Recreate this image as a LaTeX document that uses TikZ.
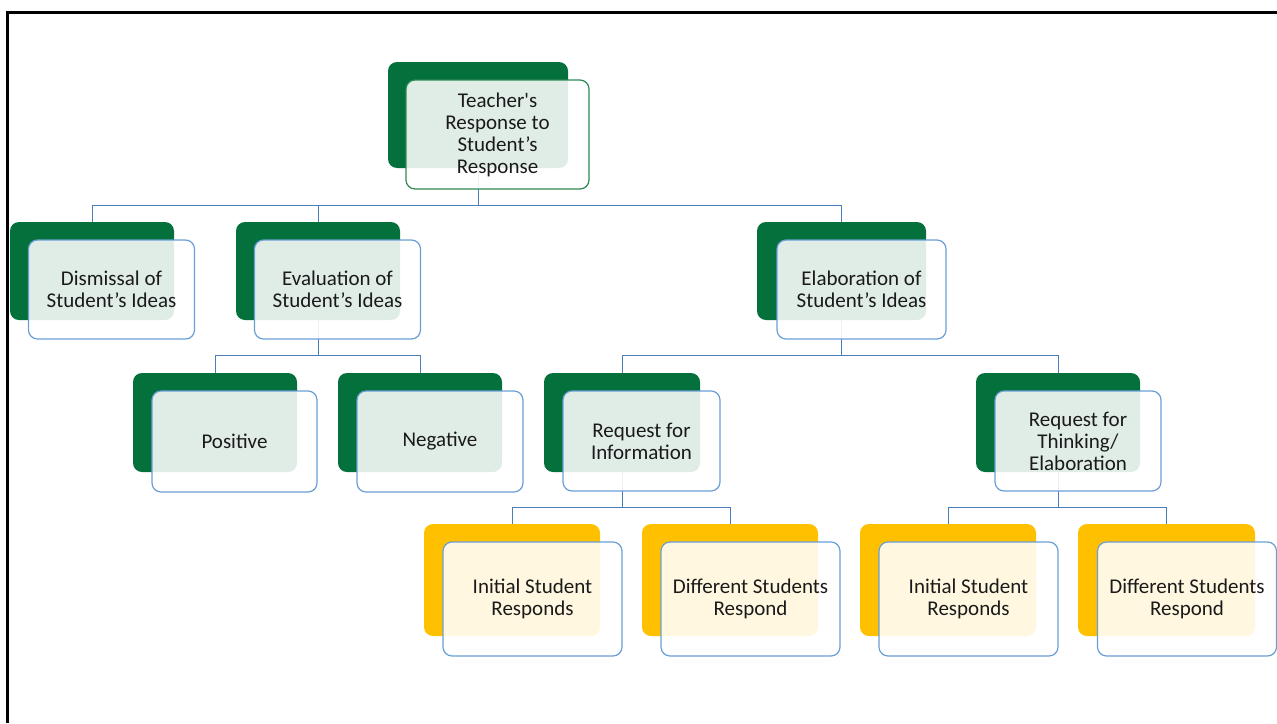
\documentclass[tikz,border=0pt]{standalone}
\usepackage{fontspec}
\setmainfont{Carlito}
\usetikzlibrary{backgrounds}
\definecolor{leafgreen}{HTML}{04703B}
\definecolor{leafgold}{HTML}{FFC000}
\definecolor{edgeblue}{HTML}{6A9FD6}
\definecolor{edgegreen}{HTML}{2E8A55}
\definecolor{linkblue}{HTML}{4A7EBB}
\definecolor{inktext}{HTML}{1A1A1A}
\begin{document}
\begin{tikzpicture}[x=1pt,y=-1pt,
  backbox/.style={rounded corners=9pt, inner sep=0pt, outer sep=0pt, fill=leafgreen},
  goldbox/.style={backbox, fill=leafgold},
  frontbox/.style={rounded corners=9pt, inner sep=0pt, outer sep=0pt,
    fill=white, fill opacity=0.88, text opacity=1, draw=edgeblue, line width=1.2pt,
    align=center, text=inktext, font=\fontsize{21}{22}\selectfont},
  rootfront/.style={frontbox, draw=edgegreen},
  conn/.style={draw=linkblue, line width=1pt}]
\useasboundingbox (0,0) rectangle (1277,723);

% page frame (top and left edges)
\draw[line width=3pt] (7.5,723) -- (7.5,12) -- (1277,12);

% root
\node[backbox, minimum width=180pt, minimum height=106pt] (rootB) at (478,115) {};
\node[rootfront, minimum width=183pt, minimum height=109pt] (root) at (497.5,134.5)
  {Teacher\textquotesingle s\\Response to\\Student’s\\Response};

% first level
\node[backbox, minimum width=164pt, minimum height=98pt] (dismB) at (92,271) {};
\node[frontbox, minimum width=166pt, minimum height=99pt] (dism) at (111.5,289.5)
  {Dismissal of\\Student’s Ideas};
\node[backbox, minimum width=164pt, minimum height=98pt] (evalB) at (318,271) {};
\node[frontbox, minimum width=166pt, minimum height=99pt] (eval) at (337.5,289.5)
  {Evaluation of\\Student’s Ideas};
\node[backbox, minimum width=169pt, minimum height=98pt] (elabB) at (841.5,271) {};
\node[frontbox, minimum width=169pt, minimum height=99pt] (elab) at (861.5,289.5)
  {Elaboration of\\Student’s Ideas};

% second level
\node[backbox, minimum width=164pt, minimum height=99pt] (posB) at (215,422.5) {};
\node[frontbox, minimum width=165pt, minimum height=101pt] (pos) at (234.5,441.5) {Positive};
\node[backbox, minimum width=164pt, minimum height=99pt] (negB) at (420,422.5) {};
\node[frontbox, minimum width=166pt, minimum height=101pt] (neg) at (440,441.5) {Negative};
\node[backbox, minimum width=156pt, minimum height=99pt] (infoB) at (622,422.5) {};
\node[frontbox, minimum width=157pt, minimum height=100pt] (info) at (641.5,441)
  {Request for\\Information};
\node[backbox, minimum width=164pt, minimum height=99pt] (thinkB) at (1058,422.5) {};
\node[frontbox, minimum width=166pt, minimum height=100pt] (think) at (1078,441)
  {Request for\\Thinking/\\Elaboration};

% third level
\node[goldbox, minimum width=176pt, minimum height=112pt] (initAB) at (512,580) {};
\node[frontbox, minimum width=179pt, minimum height=114pt] (initA) at (532.5,599)
  {Initial Student\\Responds};
\node[goldbox, minimum width=176pt, minimum height=112pt] (diffAB) at (730,580) {};
\node[frontbox, minimum width=179pt, minimum height=114pt] (diffA) at (750.5,599)
  {Different Students\\Respond};
\node[goldbox, minimum width=176pt, minimum height=112pt] (initBB) at (948,580) {};
\node[frontbox, minimum width=179pt, minimum height=114pt] (initB) at (968.5,599)
  {Initial Student\\Responds};
\node[goldbox, minimum width=177pt, minimum height=112pt] (diffBB) at (1166.5,580) {};
\node[frontbox, minimum width=179pt, minimum height=114pt] (diffB) at (1187,599)
  {Different Students\\Respond};

% tree connectors, behind the boxes
\begin{scope}[on background layer]
  \coordinate (busA) at (0,205);
  \coordinate (busB) at (0,355);
  \coordinate (busC) at (0,507);
  \draw[conn] (rootB.center) -- (rootB.center |- busA);
  \draw[conn] (dismB.center) |- (elabB.center |- busA) -- (elabB.center);
  \draw[conn] (evalB.center) -- (evalB.center |- busA);

  \draw[conn] (evalB.center) -- (evalB.center |- busB);
  \draw[conn] (posB.center) |- (negB.center |- busB) -- (negB.center);

  \draw[conn] (elabB.center) -- (elabB.center |- busB);
  \draw[conn] (infoB.center) |- (thinkB.center |- busB) -- (thinkB.center);

  \draw[conn] (infoB.center) -- (infoB.center |- busC);
  \draw[conn] (initAB.center) |- (diffAB.center |- busC) -- (diffAB.center);

  \draw[conn] (thinkB.center) -- (thinkB.center |- busC);
  \draw[conn] (initBB.center) |- (diffBB.center |- busC) -- (diffBB.center);
\end{scope}
\end{tikzpicture}
\end{document}
